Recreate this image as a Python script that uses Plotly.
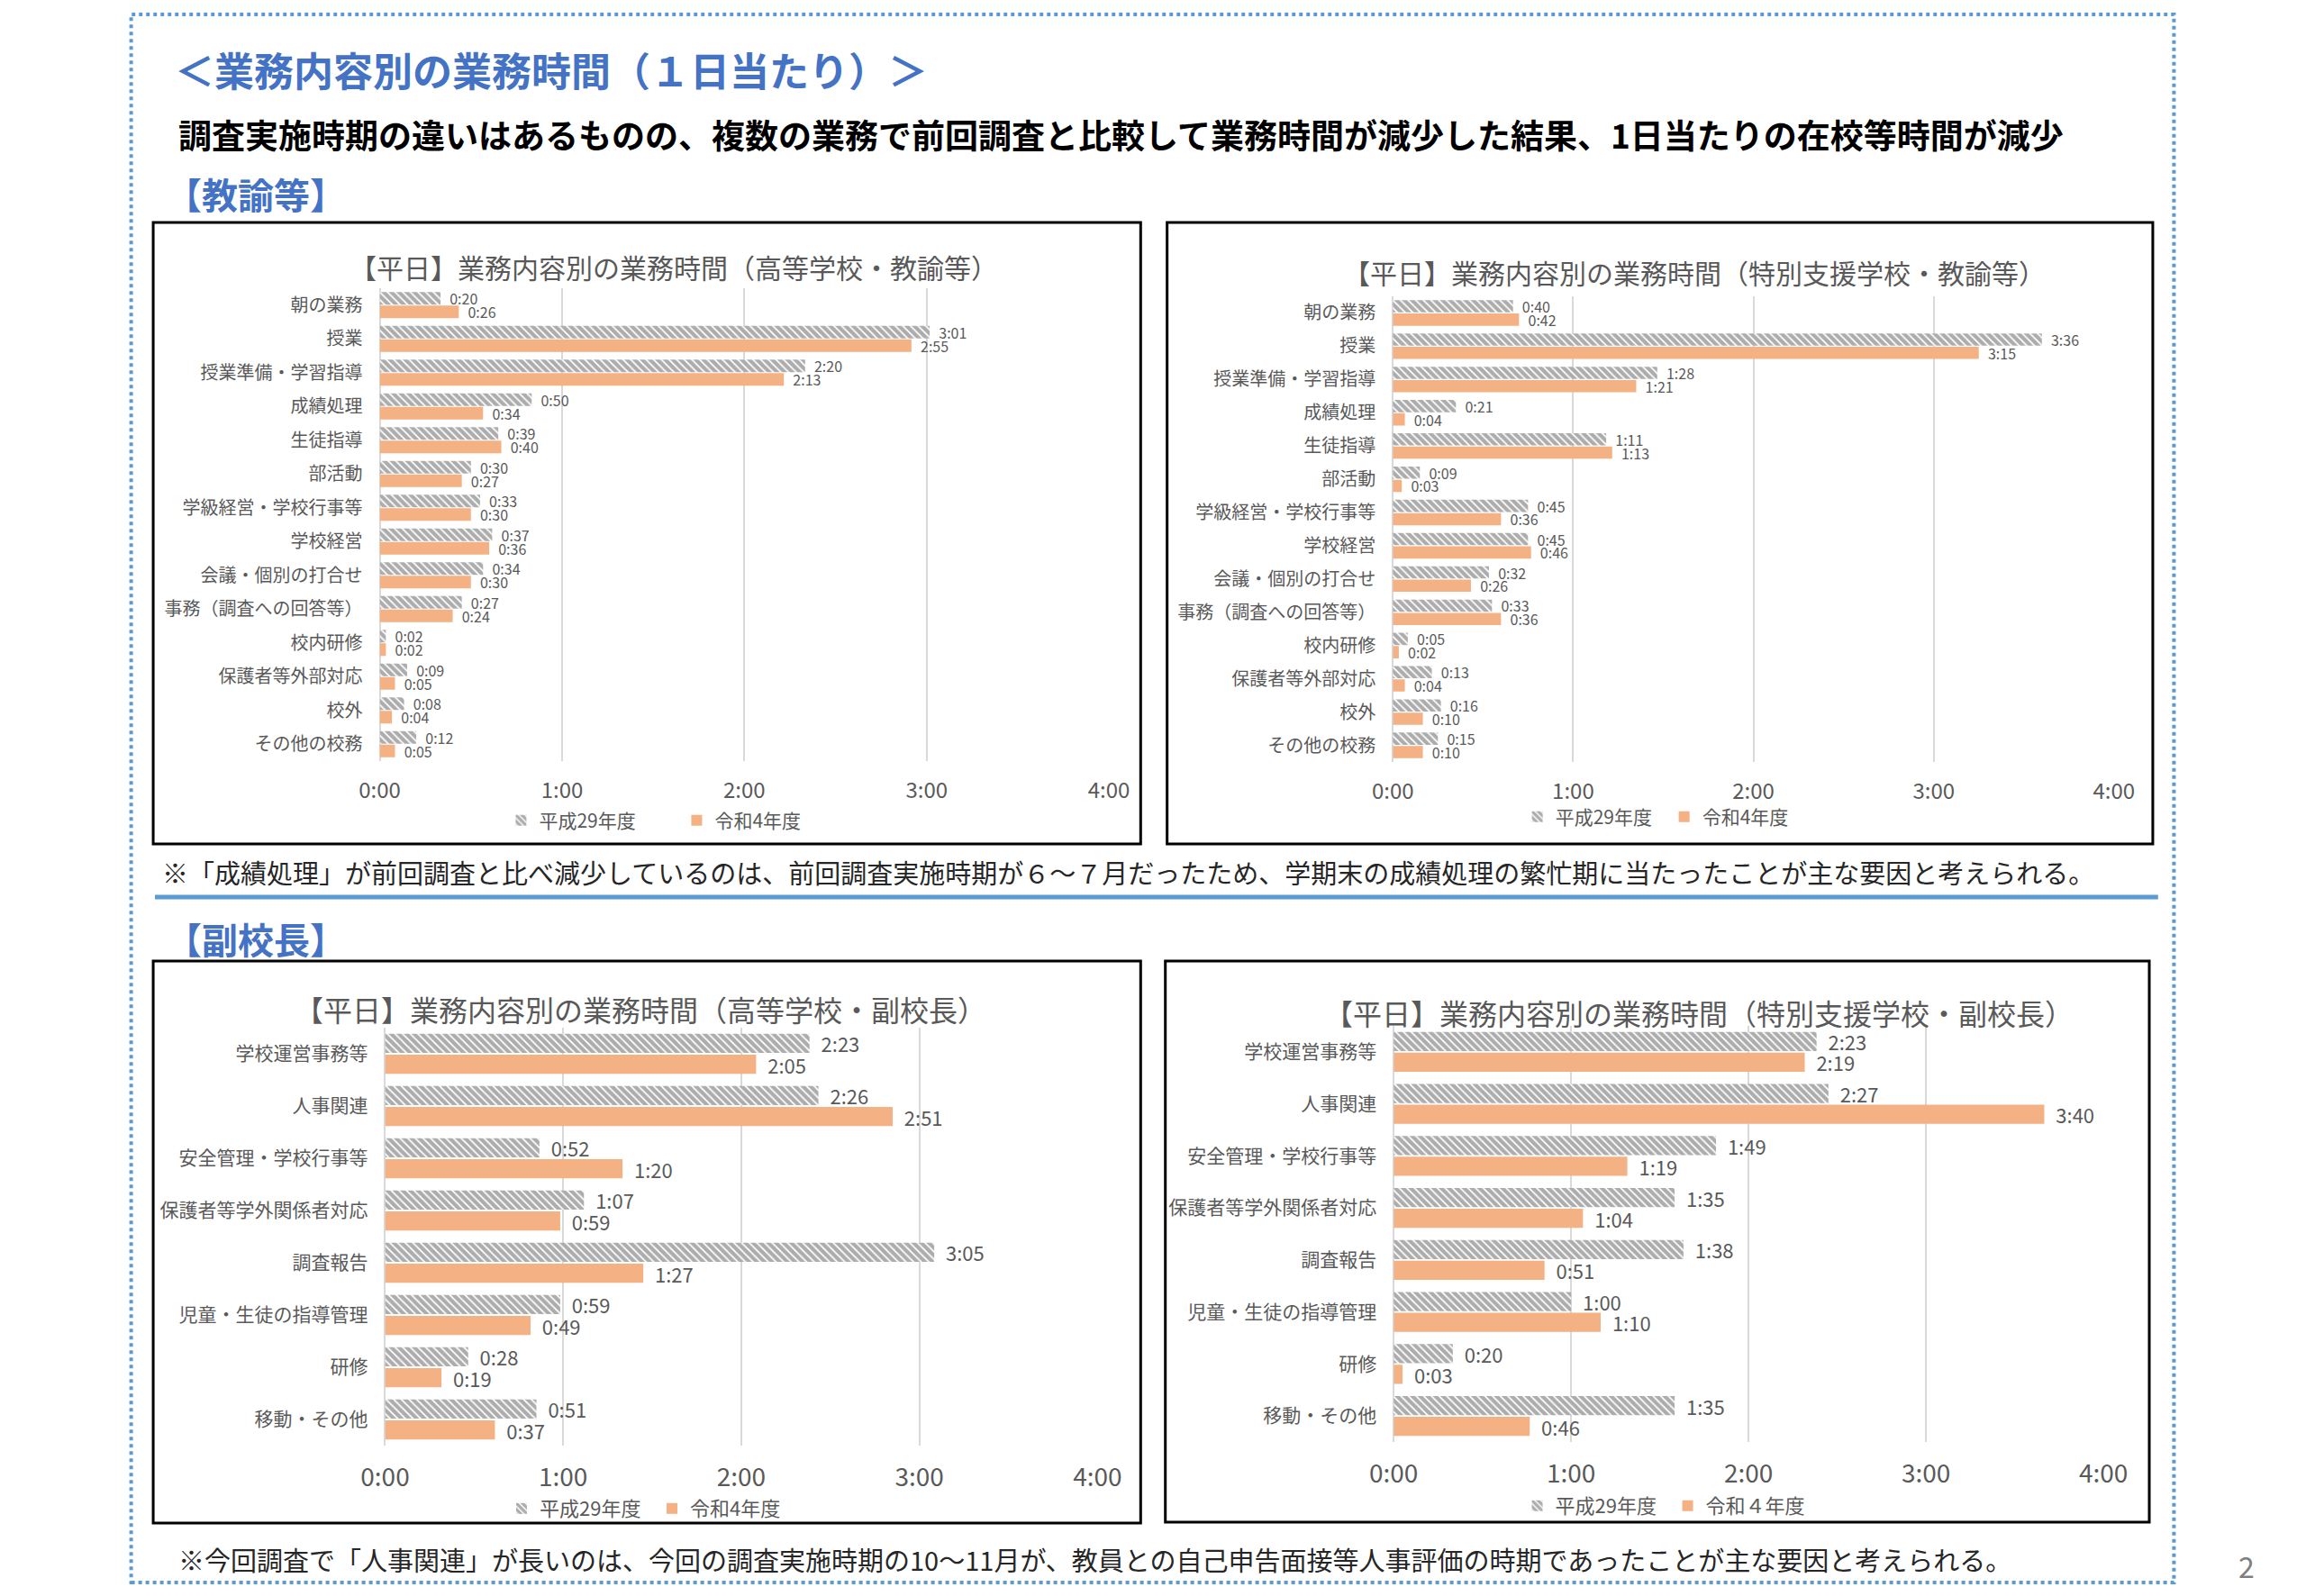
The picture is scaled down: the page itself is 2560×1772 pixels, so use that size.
import plotly.graph_objects as go

# page is 2560x1772; the html body keeps an 8px margin, so the figure is a bit smaller
PAGE_W, PAGE_H = 2560, 1772
PAD = 8
W, H = PAGE_W - 2 * PAD, PAGE_H - 2 * PAD
FONT = "Noto Sans CJK JP"
GRAY = "#595959"
BLUE = "#4472C4"
LIGHT_BLUE = "#5B9BD5"
ORANGE = "#F4B183"

# ---- data (h:mm strings) ----
teacher_cats = ["朝の業務", "授業", "授業準備・学習指導", "成績処理", "生徒指導", "部活動",
                "学級経営・学校行事等", "学校経営", "会議・個別の打合せ", "事務（調査への回答等）",
                "校内研修", "保護者等外部対応", "校外", "その他の校務"]
hs_teacher_h29 = ["0:20", "3:01", "2:20", "0:50", "0:39", "0:30", "0:33", "0:37", "0:34", "0:27",
                  "0:02", "0:09", "0:08", "0:12"]
hs_teacher_r4 = ["0:26", "2:55", "2:13", "0:34", "0:40", "0:27", "0:30", "0:36", "0:30", "0:24",
                 "0:02", "0:05", "0:04", "0:05"]
sp_teacher_h29 = ["0:40", "3:36", "1:28", "0:21", "1:11", "0:09", "0:45", "0:45", "0:32", "0:33",
                  "0:05", "0:13", "0:16", "0:15"]
sp_teacher_r4 = ["0:42", "3:15", "1:21", "0:04", "1:13", "0:03", "0:36", "0:46", "0:26", "0:36",
                 "0:02", "0:04", "0:10", "0:10"]

vp_cats = ["学校運営事務等", "人事関連", "安全管理・学校行事等", "保護者等学外関係者対応",
           "調査報告", "児童・生徒の指導管理", "研修", "移動・その他"]
hs_vp_h29 = ["2:23", "2:26", "0:52", "1:07", "3:05", "0:59", "0:28", "0:51"]
hs_vp_r4 = ["2:05", "2:51", "1:20", "0:59", "1:27", "0:49", "0:19", "0:37"]
sp_vp_h29 = ["2:23", "2:27", "1:49", "1:35", "1:38", "1:00", "0:20", "1:35"]
sp_vp_r4 = ["2:19", "3:40", "1:19", "1:04", "0:51", "1:10", "0:03", "0:46"]

x_ticks = [0, 60, 120, 180, 240]
x_tick_text = ["0:00", "1:00", "2:00", "3:00", "4:00"]


def minutes(s):
    h, m = s.split(":")
    return int(h) * 60 + int(m)


def px(x):
    return (x - PAD) / W


def py(y):
    return 1 - (y - PAD) / H


# layout of each chart panel (pixel positions on the page)
charts = [
    dict(title="【平日】業務内容別の業務時間（高等学校・教諭等）", cats=teacher_cats,
         h29=hs_teacher_h29, r4=hs_teacher_r4, r4_name="令和4年度",
         box=(146, 247, 1266, 937), plot=(403, 1230, 320, 845),
         title_xy=(736, 296), legend_xy=(742, 911), entry=150,
         cat_size=20, tick_size=24, val_size=16, title_size=30, legend_size=21),
    dict(title="【平日】業務内容別の業務時間（特別支援学校・教諭等）", cats=teacher_cats,
         h29=sp_teacher_h29, r4=sp_teacher_r4, r4_name="令和4年度",
         box=(1296, 247, 2414, 937), plot=(1552, 2370, 329, 846),
         title_xy=(1894, 302), legend_xy=(1862, 907), entry=118,
         cat_size=20, tick_size=24, val_size=16, title_size=30, legend_size=21),
    dict(title="【平日】業務内容別の業務時間（高等学校・副校長）", cats=vp_cats,
         h29=hs_vp_h29, r4=hs_vp_r4, r4_name="令和4年度",
         box=(146, 1067, 1266, 1691), plot=(409, 1217, 1141, 1605),
         title_xy=(699, 1120), legend_xy=(714, 1675), entry=122,
         cat_size=21, tick_size=28, val_size=22, title_size=32, legend_size=22),
    dict(title="【平日】業務内容別の業務時間（特別支援学校・副校長）", cats=vp_cats,
         h29=sp_vp_h29, r4=sp_vp_r4, r4_name="令和４年度",
         box=(1294, 1067, 2410, 1690), plot=(1553, 2358, 1139, 1601),
         title_xy=(1899, 1124), legend_xy=(1866, 1672), entry=122,
         cat_size=21, tick_size=28, val_size=22, title_size=32, legend_size=22),
]

fig = go.Figure()
shapes = []
annotations = []
layout = {}
hatch = dict(shape="\\", fgcolor="#5A5A5A", bgcolor="white", size=6, solidity=0.7)

for i, c in enumerate(charts, start=1):
    xa = "x" if i == 1 else f"x{i}"
    ya = "y" if i == 1 else f"y{i}"
    leg = "legend" if i == 1 else f"legend{i}"

    fig.add_trace(go.Bar(
        y=c["cats"], x=[minutes(v) for v in c["h29"]], orientation="h",
        name="平成29年度", text=c["h29"], texttemplate="\u00a0\u00a0%{text}",
        textposition="outside", constraintext="none", cliponaxis=False,
        textfont=dict(size=c["val_size"], color=GRAY),
        marker=dict(color="white", line=dict(width=0), pattern=hatch),
        xaxis=xa, yaxis=ya, legend=leg))
    fig.add_trace(go.Bar(
        y=c["cats"], x=[minutes(v) for v in c["r4"]], orientation="h",
        name=c["r4_name"], text=c["r4"], texttemplate="\u00a0\u00a0%{text}",
        textposition="outside", constraintext="none", cliponaxis=False,
        textfont=dict(size=c["val_size"], color=GRAY),
        marker=dict(color=ORANGE, line=dict(width=0)),
        xaxis=xa, yaxis=ya, legend=leg))

    x0, x1, y0, y1 = c["plot"]
    xkey = "xaxis" if i == 1 else f"xaxis{i}"
    ykey = "yaxis" if i == 1 else f"yaxis{i}"
    layout[xkey] = dict(domain=[px(x0), px(x1)], range=[0, 240], anchor=ya,
                        tickvals=x_ticks, ticktext=x_tick_text,
                        showgrid=True, gridcolor="#D9D9D9", gridwidth=2,
                        zeroline=True, zerolinecolor="#D9D9D9", zerolinewidth=2,
                        showline=False, ticks="", ticklabelstandoff=16,
                        tickfont=dict(size=c["tick_size"], color=GRAY), fixedrange=True)
    layout[ykey] = dict(domain=[py(y1), py(y0)], anchor=xa, autorange="reversed",
                        type="category", categoryorder="array", categoryarray=c["cats"],
                        showgrid=False, showline=False, ticks="", ticklabelstandoff=18,
                        tickfont=dict(size=c["cat_size"], color=GRAY), fixedrange=True)
    lx, ly = c["legend_xy"]
    layout[leg] = dict(orientation="h", x=px(lx), y=py(ly), xanchor="center", yanchor="middle",
                       entrywidth=c["entry"], font=dict(size=c["legend_size"], color=GRAY),
                       bgcolor="rgba(0,0,0,0)", traceorder="normal")

    bx0, by0, bx1, by1 = c["box"]
    shapes.append(dict(type="rect", xref="paper", yref="paper",
                       x0=px(bx0), x1=px(bx1), y0=py(by1), y1=py(by0),
                       line=dict(color="#000000", width=3)))
    tx, ty = c["title_xy"]
    annotations.append(dict(text=c["title"], x=px(tx), y=py(ty), xref="paper", yref="paper",
                            xanchor="center", yanchor="middle", showarrow=False,
                            font=dict(size=c["title_size"], color=GRAY)))

# page frame and separator
shapes.append(dict(type="rect", xref="paper", yref="paper",
                   x0=px(121), x1=px(2438), y0=py(1757), y1=py(16),
                   line=dict(color=LIGHT_BLUE, width=4, dash="dot")))
shapes.append(dict(type="line", xref="paper", yref="paper",
                   x0=px(148), x1=px(2420), y0=py(996), y1=py(996),
                   line=dict(color=LIGHT_BLUE, width=5)))

# page texts
page_texts = [
    ("＜業務内容別の業務時間（１日当たり）＞", 168, 77, 44, BLUE, True),
    ("調査実施時期の違いはあるものの、複数の業務で前回調査と比較して業務時間が減少した結果、1日当たりの在校等時間が減少",
     172, 149, 37, "#000000", True),
    ("【教諭等】", 158, 215, 40, BLUE, True),
    ("※「成績処理」が前回調査と比べ減少しているのは、前回調査実施時期が６～７月だったため、学期末の成績処理の繁忙期に当たったことが主な要因と考えられる。",
     154, 968, 29, "#262626", False),
    ("【副校長】", 158, 1042, 40, BLUE, True),
    ("※今回調査で「人事関連」が長いのは、今回の調査実施時期の10～11月が、教員との自己申告面接等人事評価の時期であったことが主な要因と考えられる。",
     172, 1731, 29, "#262626", False),
]
for text, x, y, size, color, bold in page_texts:
    annotations.append(dict(text=f"<b>{text}</b>" if bold else text, x=px(x), y=py(y),
                            xref="paper", yref="paper", xanchor="left", yanchor="middle",
                            showarrow=False, font=dict(size=size, color=color)))
annotations.append(dict(text="2", x=px(2520), y=py(1738), xref="paper", yref="paper",
                        xanchor="center", yanchor="middle", showarrow=False,
                        font=dict(size=32, color="#7F7F7F")))

fig.update_layout(
    width=W, height=H, margin=dict(l=0, r=0, t=0, b=0),
    paper_bgcolor="white", plot_bgcolor="white",
    font=dict(family=FONT, color=GRAY),
    barmode="group", bargap=0.2, bargroupgap=0.08,
    shapes=shapes, annotations=annotations,
    **layout,
)

fig.write_html("out.html")
